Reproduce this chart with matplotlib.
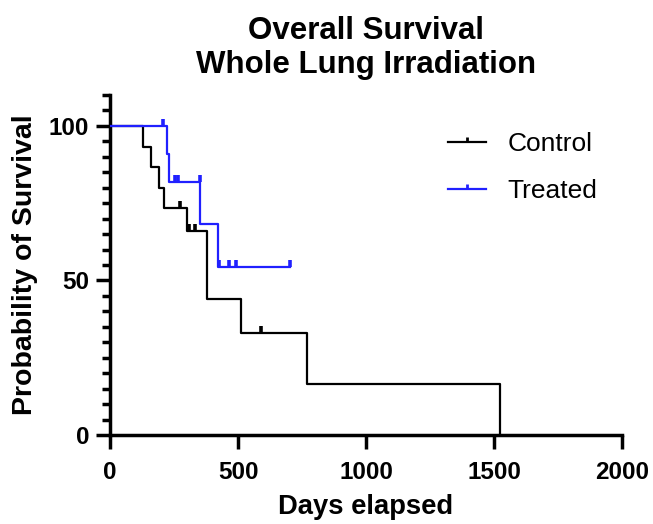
import matplotlib
matplotlib.use("Agg")
import matplotlib.pyplot as plt
from matplotlib.ticker import MultipleLocator

plt.rcParams['font.family'] = ['Liberation Sans', 'DejaVu Sans']

# step curves (days, % survival)
control_t = [0, 130, 160, 190, 211, 302, 380, 512, 771, 1523]
control_s = [100, 93.3, 86.7, 80.0, 73.3, 66.0, 44.0, 33.0, 16.5, 0]
control_cens_t = [275, 303, 308, 333, 591]
control_cens_s = [73.3, 66.0, 66.0, 66.0, 33.0]

treated_t = [0, 221, 232, 353, 423, 703]
treated_s = [100, 90.9, 81.8, 68.2, 54.5, 54.5]
treated_cens_t = [208, 254, 264, 352, 425, 465, 491, 703]
treated_cens_s = [100, 81.8, 81.8, 81.8, 54.5, 54.5, 54.5, 54.5]

black = '#000000'
blue = '#2020ff'


def draw_group(ax, t, s, ct, cs, color, label):
    ax.step(t, s, where='post', color=color, lw=1.6, zorder=3)
    ax.plot(ct, cs, linestyle='none', marker=2, markersize=5, mew=2.6,
            color=color, zorder=4)
    # legend proxy: line with a small upward tick in the middle
    ax.plot([], [], color=color, lw=1.6, marker=2, markersize=3.5, mew=2.0,
            label=label)


fig = plt.figure(figsize=(6.53, 5.24), dpi=100)
ax = fig.add_axes([0.1685, 0.1698, 0.784, 0.649])

draw_group(ax, control_t, control_s, control_cens_t, control_cens_s, black, 'Control')
draw_group(ax, treated_t, treated_s, treated_cens_t, treated_cens_s, blue, 'Treated')

ax.set_xlim(0, 2000)
ax.set_ylim(0, 110)
ax.set_xticks([0, 500, 1000, 1500, 2000])
ax.set_yticks([0, 50, 100])
ax.yaxis.set_minor_locator(MultipleLocator(5))

for side in ['top', 'right']:
    ax.spines[side].set_visible(False)
for side in ['left', 'bottom']:
    ax.spines[side].set_linewidth(2.5)

ax.tick_params(axis='both', which='major', length=10, width=2.5, labelsize=17.5)
ax.tick_params(axis='x', which='major', pad=9)
ax.tick_params(axis='y', which='major', pad=5)
ax.tick_params(axis='y', which='minor', length=6, width=2.5)
for lab in ax.get_xticklabels() + ax.get_yticklabels():
    lab.set_fontweight('bold')

ax.set_xlabel('Days elapsed', fontsize=19.7, fontweight='bold', labelpad=7)
ax.set_ylabel('Probability of Survival', fontsize=20.5, fontweight='bold', labelpad=8)
ax.set_title('Overall Survival\nWhole Lung Irradiation', fontsize=22.5,
             fontweight='bold', pad=16, linespacing=1.15)

leg = ax.legend(loc='upper left', bbox_to_anchor=(448 / 653, 1 - 132 / 524),
                bbox_transform=fig.transFigure, frameon=False, borderpad=0,
                borderaxespad=0, fontsize=19, handlelength=1.45,
                handletextpad=0.8, labelspacing=0.87)

fig.savefig('out.png', dpi=100)
